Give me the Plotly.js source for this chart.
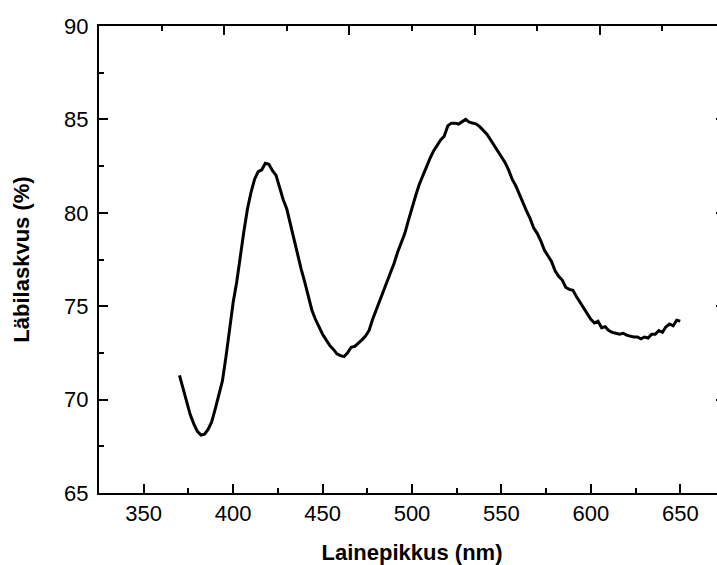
<!DOCTYPE html>
<html>
<head>
<meta charset="utf-8">
<script src="https://cdn.plot.ly/plotly-3.0.1.min.js"></script>
<style>
html, body { margin: 0; padding: 0; background: #fff; overflow: hidden; width: 717px; height: 565px; }
#chart { width: 726px; height: 565px; }
</style>
</head>
<body>
<div id="chart"></div>
<script>
const wavelength = [370,372,374,376,378,380,382,384,386,388,390,392,394,396,398,400,402,404,406,408,410,412,414,416,418,420,422,424,426,428,430,432,434,436,438,440,442,444,446,448,450,452,454,456,458,460,462,464,466,468,470,472,474,476,478,480,482,484,486,488,490,492,494,496,498,500,502,504,506,508,510,512,514,516,518,520,522,524,526,528,530,532,534,536,538,540,542,544,546,548,550,552,554,556,558,560,562,564,566,568,570,572,574,576,578,580,582,584,586,588,590,592,594,596,598,600,602,604,606,608,610,612,614,616,618,620,622,624,626,628,630,632,634,636,638,640,642,644,646,648,650];
const transmittance = [71.3,70.6,70.0,69.2,68.7,68.3,68.1,68.15,68.4,68.8,69.5,70.3,71.0,72.3,73.9,75.2,76.3,77.7,79.0,80.2,81.1,81.8,82.2,82.3,82.65,82.6,82.25,82.0,81.3,80.7,80.2,79.4,78.5,77.7,77.0,76.3,75.5,74.8,74.3,73.9,73.5,73.2,72.9,72.7,72.45,72.35,72.3,72.5,72.8,72.85,73.0,73.2,73.4,73.7,74.3,74.8,75.3,75.8,76.3,76.7,77.3,77.9,78.4,78.9,79.6,80.3,80.9,81.5,82.0,82.5,82.9,83.3,83.6,83.9,84.1,84.65,84.8,84.8,84.75,84.9,85.0,84.85,84.8,84.75,84.6,84.4,84.2,83.9,83.6,83.3,83.0,82.7,82.3,81.8,81.45,81.0,80.5,80.1,79.7,79.2,78.9,78.5,78.0,77.7,77.4,76.9,76.6,76.4,76.0,75.9,75.85,75.5,75.2,74.9,74.6,74.3,74.1,74.2,73.85,73.9,73.7,73.6,73.55,73.5,73.55,73.45,73.4,73.35,73.35,73.25,73.35,73.3,73.5,73.5,73.7,73.6,73.9,74.05,73.95,74.25,74.2];
const xTickLabels = ['350','400','450','500','550','600','650'];
const yTickLabels = ['65','70','75','80','85','90'];
const topMajorTicks = [395, 465, 535, 605, 675];
const topMinorTicks = [360, 430, 500, 570, 640];

const font = "'Liberation Sans', Arial, sans-serif";

const data = [
  { x: wavelength, y: transmittance, type: 'scatter', mode: 'lines',
    line: { color: '#000', width: 3 }, showlegend: false },
  { x: [], y: [], xaxis: 'x2', yaxis: 'y', type: 'scatter', mode: 'lines', showlegend: false }
];

const layout = {
  width: 726, height: 565,
  margin: { l: 99, r: 1, t: 26, b: 72 },
  paper_bgcolor: '#fff', plot_bgcolor: '#fff',
  font: { family: font, color: '#000', size: 22 },
  showlegend: false,
  xaxis: {
    range: [325, 675], tickmode: 'array',
    tickvals: xTickLabels.map(Number), ticktext: xTickLabels,
    ticks: 'inside', ticklen: 9, tickwidth: 2, tickcolor: '#000',
    minor: { ticks: 'inside', ticklen: 5, tickwidth: 2, tickcolor: '#000', dtick: 25, tick0: 325 },
    showline: true, linewidth: 2, linecolor: '#000', mirror: false,
    showgrid: false, zeroline: false,
    tickfont: { size: 22, family: font },
    ticklabelstandoff: 0,
    title: { text: '<b>Lainepikkus (nm)</b>', font: { size: 22, family: font }, standoff: 20 }
  },
  xaxis2: {
    overlaying: 'x', side: 'top', range: [325, 675],
    tickmode: 'array', tickvals: topMajorTicks,
    ticks: 'inside', ticklen: 9, tickwidth: 2, tickcolor: '#000',
    minor: { tickmode: 'array', tickvals: topMinorTicks, ticks: 'inside', ticklen: 5, tickwidth: 2, tickcolor: '#000' },
    showticklabels: false, showline: true, linewidth: 2, linecolor: '#000',
    showgrid: false, zeroline: false
  },
  yaxis: {
    range: [65, 90], tickmode: 'array',
    tickvals: yTickLabels.map(Number), ticktext: yTickLabels,
    ticks: 'inside', ticklen: 9, tickwidth: 2, tickcolor: '#000',
    minor: { ticks: 'inside', ticklen: 5, tickwidth: 2, tickcolor: '#000', dtick: 2.5, tick0: 65 },
    showline: true, linewidth: 2, linecolor: '#000', mirror: 'ticks',
    showgrid: false, zeroline: false,
    tickfont: { size: 22, family: font },
    ticklabelstandoff: 4,
    title: { text: '<b>Läbilaskvus (%)</b>', font: { size: 22, family: font }, standoff: 28 }
  }
};

Plotly.newPlot('chart', data, layout, { displayModeBar: false, staticPlot: true });
</script>
</body>
</html>
